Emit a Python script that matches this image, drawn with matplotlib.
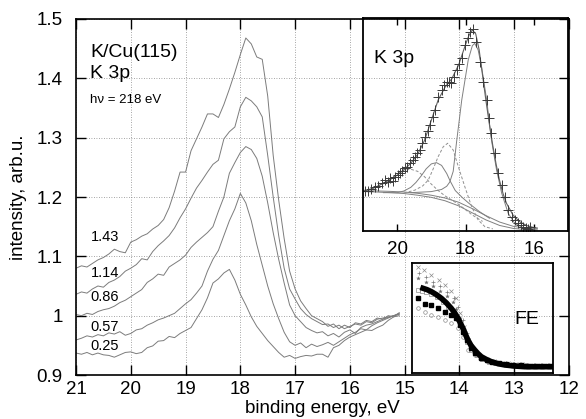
import numpy as np
import matplotlib
matplotlib.use("Agg")
import matplotlib.pyplot as plt

plt.rcParams['font.family'] = ['Liberation Sans', 'DejaVu Sans']

# binding energy grid of the measured spectra (eV)
energy = np.linspace(21.0, 15.1, 60)

coverages = ['0.25', '0.57', '0.86', '1.14', '1.43']

spec_025 = [0.937, 0.935, 0.938, 0.934, 0.937, 0.934, 0.933, 0.930, 0.934, 0.938,
            0.939, 0.936, 0.938, 0.946, 0.949, 0.957, 0.958, 0.965, 0.963, 0.970,
            0.975, 0.980, 0.995, 1.010, 1.030, 1.055, 1.062, 1.072, 1.078, 1.060,
            1.036, 1.018, 0.998, 0.982, 0.970, 0.958, 0.948, 0.938, 0.930, 0.933,
            0.928, 0.931, 0.933, 0.932, 0.935, 0.935, 0.930, 0.946, 0.950, 0.958,
            0.964, 0.968, 0.972, 0.976, 0.975, 0.980, 0.984, 0.992, 0.998, 1.005]
spec_057 = [0.959, 0.962, 0.966, 0.964, 0.968, 0.966, 0.971, 0.969, 0.973, 0.967,
            0.970, 0.976, 0.978, 0.984, 0.988, 0.993, 0.996, 1.000, 1.004, 1.012,
            1.020, 1.027, 1.038, 1.050, 1.075, 1.095, 1.110, 1.135, 1.160, 1.180,
            1.206, 1.190, 1.160, 1.120, 1.085, 1.050, 1.020, 0.995, 0.972, 0.956,
            0.950, 0.954, 0.946, 0.952, 0.948, 0.951, 0.955, 0.950, 0.956, 0.962,
            0.968, 0.972, 0.978, 0.976, 0.983, 0.988, 0.992, 0.996, 1.000, 1.003]
spec_086 = [1.002, 1.000, 1.004, 1.002, 1.007, 1.010, 1.012, 1.016, 1.022, 1.026,
            1.032, 1.038, 1.044, 1.056, 1.062, 1.070, 1.068, 1.082, 1.088, 1.094,
            1.102, 1.115, 1.124, 1.132, 1.140, 1.150, 1.176, 1.200, 1.240, 1.258,
            1.275, 1.285, 1.280, 1.265, 1.235, 1.190, 1.140, 1.095, 1.055, 1.018,
            1.000, 0.990, 0.980, 0.975, 0.971, 0.973, 0.966, 0.970, 0.964, 0.972,
            0.976, 0.970, 0.980, 0.984, 0.986, 0.990, 0.994, 0.997, 1.000, 1.004]
spec_114 = [1.036, 1.040, 1.038, 1.045, 1.050, 1.048, 1.056, 1.060, 1.066, 1.075,
            1.080, 1.086, 1.096, 1.094, 1.108, 1.118, 1.126, 1.135, 1.148, 1.165,
            1.180, 1.198, 1.215, 1.228, 1.242, 1.255, 1.262, 1.298, 1.310, 1.318,
            1.352, 1.368, 1.362, 1.352, 1.335, 1.270, 1.200, 1.135, 1.080, 1.045,
            1.028, 1.012, 1.002, 0.995, 0.990, 0.985, 0.986, 0.980, 0.984, 0.978,
            0.982, 0.986, 0.984, 0.990, 0.988, 0.994, 0.996, 0.998, 1.000, 1.002]
spec_143 = [1.080, 1.084, 1.082, 1.088, 1.094, 1.098, 1.104, 1.112, 1.108, 1.106,
            1.124, 1.128, 1.134, 1.138, 1.146, 1.152, 1.162, 1.182, 1.210, 1.242,
            1.242, 1.278, 1.298, 1.318, 1.340, 1.340, 1.334, 1.356, 1.382, 1.410,
            1.440, 1.468, 1.458, 1.436, 1.432, 1.370, 1.270, 1.195, 1.130, 1.075,
            1.045, 1.025, 1.012, 1.000, 0.995, 0.990, 0.982, 0.986, 0.978, 0.984,
            0.980, 0.988, 0.986, 0.992, 0.990, 0.996, 0.994, 1.000, 0.998, 1.000]
spectra = [spec_025, spec_057, spec_086, spec_114, spec_143]
label_y = [0.942, 0.975, 1.024, 1.065, 1.125]

# K 3p fit inset (arbitrary units)
pts_E = [20.94, 20.85, 20.76, 20.65, 20.55, 20.45, 20.36, 20.28, 20.21, 20.13,
         20.06, 19.98, 19.92, 19.85, 19.77, 19.70, 19.63, 19.55, 19.48, 19.41,
         19.34, 19.27, 19.19, 19.11, 19.04, 18.96, 18.89, 18.80, 18.70, 18.62,
         18.55, 18.48, 18.41, 18.33, 18.26, 18.18, 18.11, 18.02, 17.94, 17.87,
         17.77, 17.68, 17.58, 17.48, 17.38, 17.30, 17.24, 17.14, 17.04, 16.94,
         16.85, 16.75, 16.65, 16.55, 16.46, 16.38, 16.31, 16.24, 16.17, 16.10]
pts_v = [0.189, 0.186, 0.196, 0.208, 0.212, 0.226, 0.239, 0.232, 0.247, 0.236,
         0.252, 0.262, 0.271, 0.282, 0.294, 0.300, 0.318, 0.332, 0.349, 0.366,
         0.380, 0.412, 0.443, 0.470, 0.498, 0.535, 0.568, 0.631, 0.662, 0.684,
         0.701, 0.698, 0.693, 0.724, 0.756, 0.782, 0.811, 0.873, 0.905, 0.936,
         0.947, 0.889, 0.795, 0.700, 0.615, 0.530, 0.459, 0.365, 0.271, 0.216,
         0.161, 0.100, 0.067, 0.050, 0.036, 0.028, 0.020, 0.015, 0.009, 0.019]

fit_E = [21.0, 20.8, 20.6, 20.4, 20.2, 20.0, 19.8, 19.6, 19.4, 19.2, 19.0, 18.8,
         18.6, 18.4, 18.2, 18.0, 17.9, 17.8, 17.7, 17.6, 17.5, 17.4, 17.3, 17.2,
         17.1, 17.0, 16.9, 16.8, 16.6, 16.4, 16.2, 16.0, 15.9]
fit_v = [0.186, 0.195, 0.208, 0.225, 0.242, 0.262, 0.288, 0.318, 0.360, 0.425,
         0.520, 0.615, 0.675, 0.715, 0.780, 0.875, 0.918, 0.944, 0.925, 0.850,
         0.730, 0.610, 0.500, 0.400, 0.310, 0.235, 0.175, 0.130, 0.072, 0.042,
         0.025, 0.016, 0.014]

bg_E = [21.0, 20.6, 20.2, 19.8, 19.4, 19.0, 18.6, 18.2, 17.8, 17.4, 17.0, 16.6, 16.2, 15.9]
bg1_v = [0.185, 0.183, 0.180, 0.176, 0.168, 0.158, 0.142, 0.118, 0.085, 0.052, 0.026, 0.012, 0.006, 0.005]
bg2_v = [0.190, 0.188, 0.186, 0.183, 0.177, 0.168, 0.155, 0.135, 0.105, 0.072, 0.042, 0.022, 0.012, 0.010]

pkA_E = [19.6, 19.0, 18.7, 18.55, 18.46, 18.36, 18.26, 18.11, 17.92, 17.8, 17.73,
         17.63, 17.53, 17.38, 17.24, 17.09, 16.94, 16.75, 16.56, 16.3, 16.0]
pkA_v = [0.180, 0.185, 0.195, 0.210, 0.230, 0.280, 0.420, 0.615, 0.803, 0.870, 0.881,
         0.850, 0.771, 0.615, 0.427, 0.286, 0.177, 0.083, 0.036, 0.015, 0.008]
pkB_E = [19.8, 19.48, 19.25, 19.09, 18.95, 18.8, 18.65, 18.52, 18.36, 18.21, 18.02,
         17.82, 17.63, 17.43, 17.2]
pkB_v = [0.178, 0.192, 0.212, 0.239, 0.290, 0.349, 0.396, 0.412, 0.380, 0.302, 0.208,
         0.114, 0.052, 0.020, 0.010]
pkC_E = [20.4, 20.0, 19.8, 19.6, 19.45, 19.3, 19.15, 19.0, 18.85, 18.7, 18.55, 18.45,
         18.3, 18.1, 17.9, 17.6, 17.3]
pkC_v = [0.180, 0.180, 0.188, 0.205, 0.228, 0.258, 0.292, 0.315, 0.321, 0.308, 0.270,
         0.235, 0.190, 0.158, 0.130, 0.092, 0.060]
pkD_E = [21.0, 20.7, 20.4, 20.2, 20.0, 19.8, 19.6, 19.4, 19.2, 19.0, 18.8, 18.6, 18.4,
         18.2, 18.0, 17.8, 17.5]
pkD_v = [0.190, 0.200, 0.222, 0.245, 0.268, 0.285, 0.290, 0.280, 0.255, 0.220, 0.190,
         0.165, 0.145, 0.125, 0.100, 0.075, 0.045]

# Fermi edge inset (normalised)
fe_u = [0.08, 0.11, 0.14, 0.175, 0.21, 0.245, 0.28, 0.305, 0.328, 0.345, 0.363, 0.38,
        0.398, 0.42, 0.446, 0.47, 0.493, 0.53, 0.563, 0.61, 0.658, 0.73, 0.80, 0.9, 1.0]
fe_w = [0.770, 0.757, 0.739, 0.712, 0.679, 0.638, 0.588, 0.545, 0.497, 0.452, 0.406,
        0.352, 0.300, 0.250, 0.209, 0.175, 0.148, 0.122, 0.103, 0.085, 0.073, 0.063,
        0.057, 0.057, 0.057]
sq_u = [0.045, 0.092, 0.139, 0.186, 0.233, 0.28, 0.316, 0.34, 0.363, 0.39, 0.42, 0.45,
        0.49, 0.53, 0.57, 0.62, 0.67, 0.72, 0.77, 0.82, 0.87, 0.92, 0.97]
sq_w = [0.68, 0.63, 0.618, 0.588, 0.558, 0.527, 0.497, 0.436, 0.376, 0.30, 0.23, 0.18,
        0.14, 0.115, 0.10, 0.09, 0.08, 0.075, 0.07, 0.068, 0.066, 0.066, 0.065]
oc_u = [0.045, 0.092, 0.139, 0.186, 0.233, 0.28, 0.328, 0.36, 0.398, 0.446, 0.49, 0.53,
        0.58, 0.63, 0.68, 0.73, 0.78, 0.83, 0.88, 0.93, 0.98]
oc_w = [0.588, 0.558, 0.527, 0.505, 0.482, 0.452, 0.406, 0.33, 0.209, 0.164, 0.13, 0.11,
        0.095, 0.085, 0.08, 0.075, 0.07, 0.068, 0.066, 0.065, 0.065]
os_u = [0.045, 0.07, 0.10, 0.14, 0.18, 0.22, 0.26, 0.30, 0.33, 0.36, 0.39, 0.42, 0.46,
        0.50, 0.55, 0.60, 0.65, 0.70, 0.75, 0.80, 0.85, 0.90, 0.95]
os_w = [0.755, 0.75, 0.74, 0.72, 0.69, 0.65, 0.60, 0.55, 0.49, 0.39, 0.28, 0.21, 0.16,
        0.125, 0.10, 0.09, 0.08, 0.075, 0.072, 0.07, 0.068, 0.067, 0.066]
xs_u = [0.045, 0.09, 0.14, 0.19, 0.235, 0.28, 0.316, 0.345, 0.37, 0.40, 0.44, 0.48,
        0.53, 0.58, 0.63, 0.68, 0.73, 0.78, 0.83, 0.88, 0.93, 0.98]
xs_w = [0.967, 0.935, 0.891, 0.85, 0.80, 0.75, 0.68, 0.55, 0.42, 0.30, 0.20, 0.15,
        0.12, 0.105, 0.095, 0.088, 0.082, 0.078, 0.075, 0.072, 0.07, 0.07]
pl_u = [0.05, 0.10, 0.15, 0.20, 0.25, 0.30, 0.33, 0.36, 0.39, 0.42, 0.46, 0.50, 0.55,
        0.60, 0.65, 0.70, 0.75, 0.80, 0.85, 0.90, 0.95]
pl_w = [0.91, 0.87, 0.83, 0.79, 0.74, 0.68, 0.60, 0.48, 0.36, 0.26, 0.18, 0.14, 0.115,
        0.10, 0.09, 0.085, 0.08, 0.076, 0.073, 0.071, 0.07]
st_u = [0.045, 0.10, 0.15, 0.20, 0.25, 0.29, 0.316, 0.34, 0.37, 0.40, 0.44, 0.48, 0.52,
        0.57, 0.62, 0.67, 0.72, 0.77, 0.82, 0.87, 0.92, 0.97]
st_w = [0.864, 0.83, 0.79, 0.75, 0.70, 0.65, 0.58, 0.50, 0.38, 0.28, 0.20, 0.15, 0.125,
        0.105, 0.095, 0.088, 0.082, 0.078, 0.075, 0.072, 0.07, 0.07]

W, H = 586, 419
fig = plt.figure(figsize=(W / 100, H / 100), dpi=100)


def box(l, t, r, b):
    return [l / W, 1 - b / H, (r - l) / W, (b - t) / H]


ax = fig.add_axes(box(76, 19, 569, 375))
for spec in spectra:
    ax.plot(energy, spec, color='#7c7c7c', lw=0.7)
for lab, y in zip(coverages, label_y):
    ax.text(20.73, y, lab, fontsize=10.5, va='baseline', ha='left')

ax.set_xlim(21, 12)
ax.set_ylim(0.9, 1.5)
ax.set_xticks(range(21, 11, -1))
ax.set_yticks([0.9, 1.0, 1.1, 1.2, 1.3, 1.4, 1.5])
ax.set_yticklabels(['0.9', '1', '1.1', '1.2', '1.3', '1.4', '1.5'])
ax.tick_params(direction='in', length=7, width=1, top=True, right=True, labelsize=13.5)
ax.tick_params(axis='y', pad=9.5)
ax.tick_params(axis='x', pad=4)
ax.grid(True, linestyle=(0, (1, 2)), color='#888888', lw=0.6)
for s in ax.spines.values():
    s.set_linewidth(1.2)
ax.set_xlabel('binding energy, eV', fontsize=13.5)
ax.set_ylabel('intensity, arb.u.', fontsize=13.5)
ax.xaxis.set_label_coords(0.5, -0.07)
ax.yaxis.set_label_coords(-0.1, 0.5)

fig.text(90 / W, 1 - 57 / H, 'K/Cu(115)', fontsize=14, va='baseline')
fig.text(90 / W, 1 - 78 / H, 'K 3p', fontsize=14, va='baseline')
fig.text(90 / W, 1 - 103 / H, 'h\u03bd = 218 eV', fontsize=9.5, va='baseline')

# K 3p inset
ax1 = fig.add_axes(box(363, 18, 568, 231))
ax1.set_facecolor('none')
ax1.plot(bg_E, bg1_v, color='#808080', lw=0.7)
ax1.plot(bg_E, bg2_v, color='#808080', lw=0.7)
ax1.plot(pkD_E, pkD_v, color='#909090', lw=0.7, ls=(0, (3, 2)))
ax1.plot(pkC_E, pkC_v, color='#808080', lw=0.7)
ax1.plot(pkB_E, pkB_v, color='#909090', lw=0.7, ls=(0, (3, 2)))
ax1.plot(pkA_E, pkA_v, color='#808080', lw=0.7)
ax1.plot(fit_E, fit_v, color='#606060', lw=0.8)
ax1.plot(pts_E, pts_v, ls='none', marker='+', ms=6.5, mew=0.7, color='#3a3a3a')
ax1.set_xlim(21, 15)
ax1.set_ylim(0, 1)
ax1.set_xticks([20, 18, 16])
ax1.set_yticks([])
ax1.tick_params(direction='in', length=5, width=1, top=True, labelsize=13.5, pad=7.5)
for s in ax1.spines.values():
    s.set_linewidth(1.3)
ax1.text(0.055, 0.79, 'K 3p', transform=ax1.transAxes, fontsize=14, va='baseline')

# Fermi edge inset
ax2 = fig.add_axes(box(411.7, 263, 553, 373))
ax2.set_facecolor('none')
ax2.plot(xs_u, xs_w, ls='none', marker='x', ms=2.8, mew=0.5, color='#8c8c8c')
ax2.plot(pl_u, pl_w, ls='none', marker='+', ms=3.2, mew=0.5, color='#7a7a7a')
ax2.plot(st_u, st_w, ls='none', marker='*', ms=2.8, mew=0.2, color='#6a6a6a')
ax2.plot(os_u, os_w, ls='none', marker='s', ms=2.6, mew=0.5, mfc='none', color='#8c8c8c')
ax2.plot(oc_u, oc_w, ls='none', marker='o', ms=2.6, mew=0.5, mfc='none', color='#8c8c8c')
ax2.plot(sq_u, sq_w, ls='none', marker='s', ms=2.8, color='black')
ax2.plot(fe_u, fe_w, color='black', lw=4)
ax2.set_xlim(0, 1)
ax2.set_ylim(0, 1)
ax2.set_xticks([])
ax2.set_yticks([])
for s in ax2.spines.values():
    s.set_linewidth(1.3)
ax2.text(0.73, 0.45, 'FE', transform=ax2.transAxes, fontsize=14, va='baseline')

fig.savefig('out.png', dpi=100)
